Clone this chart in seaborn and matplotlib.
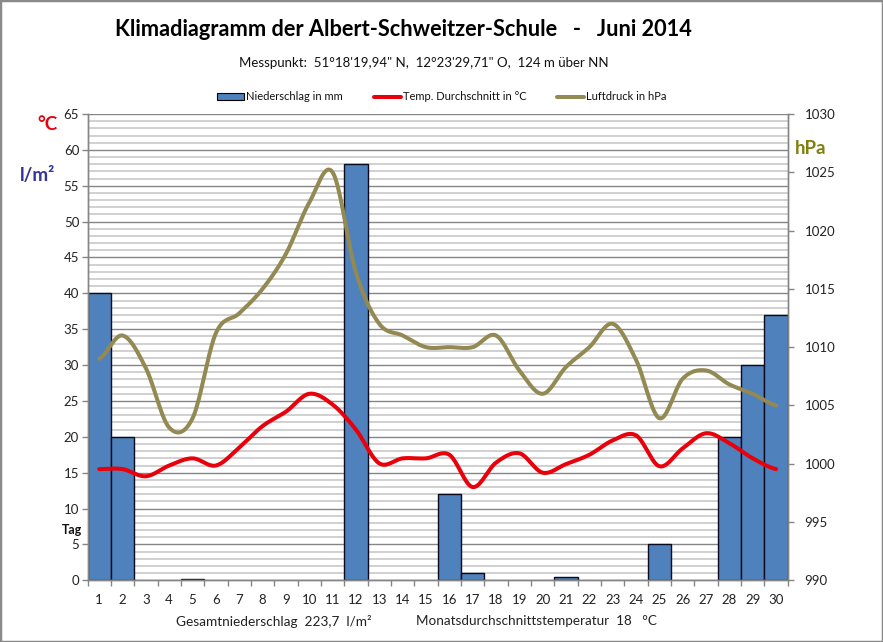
#plot.py
import numpy as np
import matplotlib
matplotlib.use("Agg")
import matplotlib.pyplot as plt
from matplotlib.lines import Line2D
from matplotlib.patches import Patch, Rectangle
from matplotlib.ticker import MultipleLocator, FixedLocator, NullFormatter
import seaborn as sns

#Datos del diagrama
tage = [str(t) for t in range(1, 31)]
niederschlag = [40, 20, 0, 0, 0.2, 0, 0, 0, 0, 0, 0, 58, 0, 0, 0,
                12, 1, 0, 0, 0, 0.5, 0, 0, 0, 5, 0, 0, 20, 30, 37]
temperatur = [15.5, 15.5, 14.5, 16, 17, 16, 18.5, 21.5, 23.5, 26, 24.5, 21, 16.3, 17, 17,
              17.5, 13, 16.4, 17.7, 15, 16.2, 17.5, 19.5, 20.2, 15.9, 18.4, 20.5, 19.1, 17, 15.5]
luftdruck = [1009, 1011, 1008.2, 1003.1, 1003.9, 1011.2, 1012.9, 1015, 1018, 1022.4, 1025, 1016.4, 1012, 1011, 1010,
             1010, 1010, 1011, 1008, 1006, 1008.3, 1010, 1012, 1008.9, 1003.9, 1007.3, 1008, 1006.8, 1006, 1005]

BLAU = "#4f81bd"
ROT = "#e8000b"
OLIV = "#938953"
W, H = 883, 642


def glatt(werte, n=20):
    #Curva suavizada tipo Excel (Catmull-Rom) que pasa por cada valor
    p = np.array([werte[0]] + list(werte) + [werte[-1]], dtype=float)
    xs, ys = [], []
    for i in range(1, len(p) - 2):
        t = np.linspace(0, 1, n, endpoint=False)
        y = 0.5 * (2 * p[i] + (p[i + 1] - p[i - 1]) * t
                   + (2 * p[i - 1] - 5 * p[i] + 4 * p[i + 1] - p[i + 2]) * t ** 2
                   + (3 * p[i] - p[i - 1] - 3 * p[i + 1] + p[i + 2]) * t ** 3)
        xs.extend(i - 1 + t)
        ys.extend(y)
    xs.append(len(werte) - 1)
    ys.append(werte[-1])
    return np.array(xs), np.array(ys)


def text_px(x, y, s, **kw):
    kw.setdefault("ha", "center")
    kw.setdefault("va", "center")
    fig.text(x / W, 1 - y / H, s, **kw)


sns.set_theme(style="white")
plt.rcParams["font.family"] = ["Lato", "DejaVu Sans"]

fig = plt.figure(figsize=(W / 100, H / 100), dpi=100, facecolor="white")
ax = fig.add_axes([87.5 / W, 1 - 580.3 / H, 700.3 / W, 466.3 / H])

sns.barplot(x=tage, y=niederschlag, ax=ax, color=BLAU, saturation=1, width=1,
            edgecolor="#0a0a1e", linewidth=1, zorder=2)
for balken, wert in zip(ax.patches, niederschlag):
    if wert == 0:
        balken.set_visible(False)

x_t, y_t = glatt(temperatur)
sns.lineplot(x=x_t, y=y_t, ax=ax, color=ROT, linewidth=2.9, zorder=4)

ax.set_xlim(-0.5, 29.5)
ax.set_ylim(0, 65)
ax.set_xlabel("")
ax.set_ylabel("")
ax.yaxis.set_major_locator(MultipleLocator(5))
ax.yaxis.set_minor_locator(MultipleLocator(1))
ax.yaxis.set_minor_formatter(NullFormatter())
ax.grid(which="major", axis="y", color="#858585", linewidth=1, zorder=0)
ax.grid(which="minor", axis="y", color="#c4c4c4", linewidth=1.1, zorder=0)
ax.set_axisbelow(True)
ax.xaxis.set_minor_locator(FixedLocator(np.arange(-0.5, 30)))
ax.tick_params(axis="x", which="major", length=0, pad=10, labelsize=9.5, labelcolor="#222222")
ax.tick_params(axis="x", which="minor", length=4, width=1, color="#858585", bottom=True)
ax.tick_params(axis="y", which="major", length=4, width=1, color="#858585", left=True,
               labelsize=9.5, labelcolor="#222222", pad=2)
ax.tick_params(axis="y", which="minor", length=0)

#Eje derecho de presion
ax2 = ax.twinx()
x_p, y_p = glatt(luftdruck)
sns.lineplot(x=x_p, y=y_p, ax=ax2, color=OLIV, linewidth=2.9, zorder=3)
ax2.set_ylim(990, 1030)
ax2.set_ylabel("")
ax2.yaxis.set_major_locator(MultipleLocator(5))
ax2.grid(False)
ax2.tick_params(axis="y", length=4, width=1, color="#858585", right=True,
                labelsize=9.5, labelcolor="#222222", pad=8)

for a in (ax, ax2):
    for seite in a.spines.values():
        seite.set_color("#858585")
        seite.set_linewidth(1)
    a.spines["top"].set_visible(False)

#Textos
text_px(403, 29, "Klimadiagramm der Albert-Schweitzer-Schule   -   Juni 2014",
        fontsize=15.7, fontweight="bold", color="black")
text_px(424, 63, "Messpunkt:  51°18'19,94\" N,  12°23'29,71\" O,  124 m über NN",
        fontsize=9.5, color="#111111")
text_px(48, 125, "°C", fontsize=13.5, fontweight="bold", color=ROT)
text_px(38, 176, "l/m²", fontsize=13.5, fontweight="bold", color="#33339a")
text_px(811, 148, "hPa", fontsize=13.5, fontweight="bold", color="#808010")
text_px(72, 530, "Tag", fontsize=9, fontweight="bold", color="#111111")
text_px(274, 621, "Gesamtniederschlag  223,7  l/m²", fontsize=9.8, color="#222222")
text_px(536, 621, "Monatsdurchschnittstemperatur  18   °C", fontsize=9.7, color="#222222")

handles = [Patch(facecolor=BLAU, edgecolor="black", linewidth=0.8),
           Line2D([], [], color=ROT, linewidth=2.9),
           Line2D([], [], color=OLIV, linewidth=2.9)]
labels = ["Niederschlag in mm", "Temp. Durchschnitt in °C", "Luftdruck in hPa"]
fig.legend(handles, labels, loc="center", bbox_to_anchor=(442 / W, 1 - 97 / H), ncol=3,
           frameon=False, fontsize=8, handlelength=2.4, handleheight=0.6,
           handletextpad=0.2, columnspacing=2.8, labelcolor="#111111")

#Marco exterior de la imagen
fig.add_artist(Rectangle((0, 0), 1, 1, transform=fig.transFigure, fill=False,
                         edgecolor="#8a8a8a", linewidth=2.5))

fig.savefig("out.png", dpi=100)
